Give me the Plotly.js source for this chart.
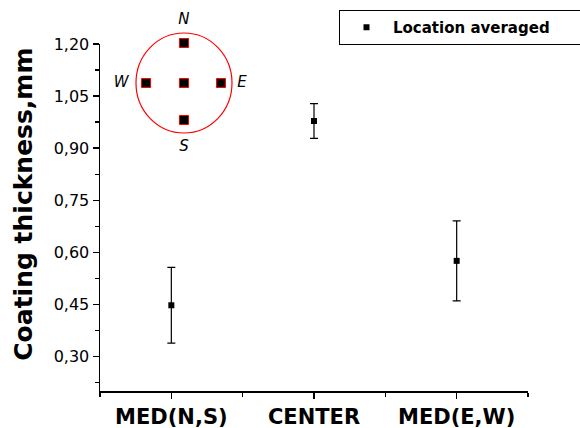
<!DOCTYPE html>
<html>
<head>
<meta charset="utf-8">
<script src="https://cdn.plot.ly/plotly-3.0.1.min.js"></script>
<style>html,body{margin:0;padding:0;background:#fff;}#chart{width:580px;height:428px;}</style>
</head>
<body>
<div id="chart"></div>
<script>
// Main data
const categories = ['MED(N,S)', 'CENTER', 'MED(E,W)'];
const thickness = [0.447, 0.978, 0.575];
const errors = [0.109, 0.050, 0.115];
const yTickVals = [0.30, 0.45, 0.60, 0.75, 0.90, 1.05, 1.20];
const yTitle = 'Coating thickness,mm';
const legendName = 'Location averaged';

// Inset diagram (sampling locations on the disc)
const insetPointX = [0, 0, 0, -0.79, 0.77];
const insetPointY = [0.80, 0, -0.74, 0, 0];
const insetLabels = ['N', 'S', 'W', 'E'];
const insetLabelX = [0, 0, -1.31, 1.21];
const insetLabelY = [1.26, -1.28, 0, 0];

const xPos = categories.map((c, i) => i + 1);
const FONT = '"DejaVu Sans", Arial, sans-serif';

const traces = [
  {
    type: 'scatter', mode: 'markers', name: '<b>' + legendName + '</b>',
    x: xPos, y: thickness,
    marker: {symbol: 'square', size: 6, color: '#000'},
    error_y: {type: 'data', array: errors, visible: true, color: '#000', thickness: 1.2, width: 4},
    xaxis: 'x', yaxis: 'y', showlegend: true
  },
  {
    type: 'scatter', mode: 'markers', x: insetPointX, y: insetPointY,
    marker: {symbol: 'square', size: 9, color: '#000', line: {color: '#ff0000', width: 1}},
    xaxis: 'x2', yaxis: 'y2', showlegend: false, hoverinfo: 'skip'
  },
  {
    type: 'scatter', mode: 'text', x: insetLabelX, y: insetLabelY, text: insetLabels,
    textfont: {family: FONT, size: 15, color: '#000', style: 'italic'},
    cliponaxis: false,
    xaxis: 'x2', yaxis: 'y2', showlegend: false, hoverinfo: 'skip'
  }
];

const layout = {
  width: 580, height: 428,
  margin: {l: 100, r: 52, t: 10, b: 37, autoexpand: false},
  paper_bgcolor: '#fff', plot_bgcolor: '#fff',
  separators: ',.',
  font: {family: FONT, color: '#000'},
  showlegend: true,
  legend: {
    orientation: 'h', x: 0.5584, xanchor: 'left', y: 1, yanchor: 'top',
    bordercolor: '#000', borderwidth: 1, bgcolor: '#fff',
    font: {family: FONT, size: 15, color: '#000'},
    itemwidth: 43,
    entrywidth: 225, entrywidthmode: 'pixels'
  },
  xaxis: {
    range: [0.5, 3.5], anchor: 'y',
    tickvals: xPos, ticktext: categories.map(c => '<b>' + c + '</b>'),
    tickfont: {family: FONT, size: 21, color: '#000'},
    ticks: 'outside', ticklen: 6, tickwidth: 1.2, tickcolor: '#000',
    minor: {dtick: 0.5, tick0: 0.5, ticks: 'outside', ticklen: 4, tickwidth: 1.2, tickcolor: '#000'},
    showline: true, linecolor: '#000', linewidth: 1.5,
    showgrid: false, zeroline: false, fixedrange: true
  },
  yaxis: {
    domain: [0, 0.9108], range: [0.2, 1.2], anchor: 'x',
    tickvals: yTickVals, tickformat: '.2f',
    tickfont: {family: FONT, size: 16, color: '#000'},
    ticks: 'outside', ticklen: 6, tickwidth: 1.2, tickcolor: '#000',
    minor: {dtick: 0.15, tick0: 0.225, ticks: 'outside', ticklen: 4, tickwidth: 1.2, tickcolor: '#000'},
    showline: true, linecolor: '#000', linewidth: 1.5,
    showgrid: false, zeroline: false, fixedrange: true
  },
  xaxis2: {domain: [0.028, 0.3645], range: [-1.5, 1.5], anchor: 'y2', visible: false, fixedrange: true},
  yaxis2: {domain: [0.6247, 0.9921], range: [-1.4, 1.4], anchor: 'x2', visible: false, fixedrange: true},
  annotations: [
    {text: '<b>' + yTitle + '</b>', textangle: -90, xref: 'paper', yref: 'paper',
     x: -0.178, y: 0.491, xanchor: 'center', yanchor: 'middle', showarrow: false,
     font: {family: FONT, size: 25, color: '#000'}}
  ],
  shapes: [
    {type: 'circle', xref: 'x2', yref: 'y2', x0: -1, x1: 1, y0: -1, y1: 1,
     line: {color: '#ff0000', width: 1.2}, fillcolor: 'rgba(0,0,0,0)', layer: 'below'}
  ]
};

Plotly.newPlot('chart', traces, layout, {displayModeBar: false, staticPlot: true});
</script>
</body>
</html>
